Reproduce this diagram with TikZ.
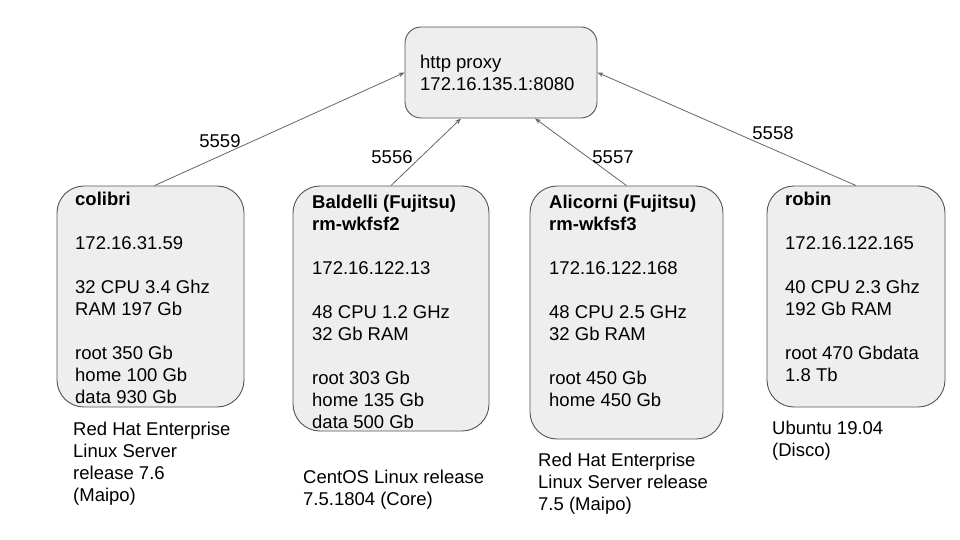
\documentclass[tikz,border=0pt]{standalone}
\usepackage{fontspec}
\setmainfont{Liberation Sans}
\usetikzlibrary{arrows.meta}
\definecolor{boxfill}{HTML}{EEEEEE}
\definecolor{boxline}{HTML}{555555}
\definecolor{arrowline}{HTML}{666666}
\newcommand{\txtblock}[1]{\parbox[t]{200pt}{\fontsize{18.5}{22}\selectfont\raggedright #1}}
\begin{document}
\begin{tikzpicture}[x=1pt,y=-1pt,
  box/.style={draw=boxline,fill=boxfill,line width=0.9pt,rounded corners=27pt,inner sep=0pt},
  txt/.style={anchor=base west,inner sep=0pt},
  lbl/.style={inner sep=0pt,font=\fontsize{18.5}{22}\selectfont},
  conn/.style={draw=arrowline,line width=0.8pt,-{Stealth[length=6pt,width=4.5pt]}}]
\useasboundingbox (0,0) rectangle (960,540);
% boxes
\node[box,rounded corners=16pt,minimum width=192pt,minimum height=91pt] (proxy) at (501,72.5) {};
\node[box,minimum width=187pt,minimum height=221pt] (colibri) at (150.5,296.5) {};
\node[box,minimum width=196pt,minimum height=245pt] (baldelli) at (391,308.5) {};
\node[box,minimum width=193pt,minimum height=253pt] (alicorni) at (626.5,312.5) {};
\node[box,minimum width=178pt,minimum height=221pt] (robin) at (856,296.5) {};
% box texts
\node[txt] (proxytxt) at (420,69) {\txtblock{http proxy\\172.16.135.1:8080}};
\node[txt] (colibritxt) at (75,205) {\txtblock{\textbf{colibri}\\[22pt]172.16.31.59\\[22pt]32 CPU 3.4 Ghz\\RAM 197 Gb\\[22pt]root 350 Gb\\home 100 Gb\\data 930 Gb}};
\node[txt] (baldellitxt) at (312,208) {\txtblock{\textbf{Baldelli (Fujitsu)}\\\textbf{rm-wkfsf2}\\[22pt]172.16.122.13\\[22pt]48 CPU 1.2 GHz\\32 Gb RAM\\[22pt]root 303 Gb\\home 135 Gb\\data 500 Gb}};
\node[txt] (alicornitxt) at (549,208) {\txtblock{\textbf{Alicorni (Fujitsu)}\\\textbf{rm-wkfsf3}\\[22pt]172.16.122.168\\[22pt]48 CPU 2.5 GHz\\32 Gb RAM\\[22pt]root 450 Gb\\home 450 Gb}};
\node[txt] (robintxt) at (785,205) {\txtblock{\textbf{robin}\\[22pt]172.16.122.165\\[22pt]40 CPU 2.3 Ghz\\192 Gb RAM\\[22pt]root 470 Gbdata\\1.8 Tb}};
% OS texts
\node[txt] (colibrios) at (73,435) {\txtblock{Red Hat Enterprise\\Linux Server\\release 7.6\\(Maipo)}};
\node[txt] (baldellios) at (303,483) {\txtblock{CentOS Linux release\\7.5.1804 (Core)}};
\node[txt] (alicornios) at (538,466) {\txtblock{Red Hat Enterprise\\Linux Server release\\7.5 (Maipo)}};
\node[txt] (robinos) at (772,434) {\txtblock{Ubuntu 19.04\\(Disco)}};
% connectors
\draw[conn] ([xshift=98pt]colibri.north west) -- (proxy.west);
\draw[conn] (baldelli.north) -- ([xshift=-40pt]proxy.south);
\draw[conn] (alicorni.north) -- ([xshift=34pt]proxy.south);
\draw[conn] (robin.north) -- (proxy.east);
% port labels
\node[lbl] (p5559) at (220,141) {5559};
\node[lbl] (p5556) at (392,157) {5556};
\node[lbl] (p5557) at (613,157) {5557};
\node[lbl] (p5558) at (773,133) {5558};
\end{tikzpicture}
\end{document}
